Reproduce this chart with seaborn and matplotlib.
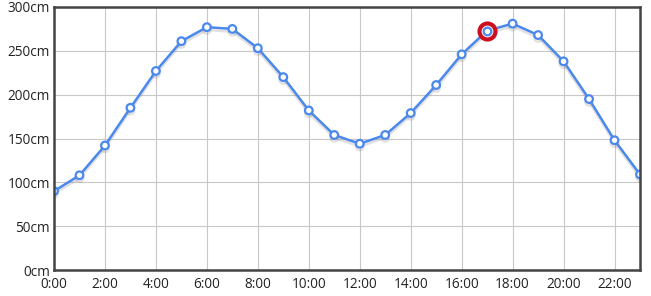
import matplotlib
matplotlib.use("Agg")
import matplotlib.pyplot as plt
import matplotlib.patheffects as pe
import seaborn as sns
import pandas as pd

hours = list(range(24))
tide_cm = [90, 108, 142, 185, 227, 261, 277, 275, 253, 220, 182, 154,
           144, 154, 179, 211, 246, 273, 281, 268, 238, 195, 148, 109]
x_tick_labels = [f"{h}:00" for h in range(0, 24, 2)]
y_ticks = [0, 50, 100, 150, 200, 250, 300]
highlight_hour = 17

df = pd.DataFrame({"hour": hours, "tide": tide_cm})

sns.set_style("white")
plt.rcParams["font.family"] = ["Open Sans", "DejaVu Sans"]

fig = plt.figure(figsize=(6.51, 2.96), dpi=100)
ax = fig.add_axes([54 / 651, 26 / 296, 586 / 651, 263 / 296])

line_color = "#4A88EE"
sns.lineplot(data=df, x="hour", y="tide", ax=ax, color=line_color, linewidth=1.8,
             marker="o", markersize=5.5, markerfacecolor="white",
             markeredgecolor=line_color, markeredgewidth=1.6,
             path_effects=[pe.SimpleLineShadow(offset=(0, -2), shadow_color="#888888", alpha=0.25),
                           pe.Normal()])

hv = tide_cm[hours.index(highlight_hour)]
ax.plot([highlight_hour], [hv], marker="o", markersize=11.5, markerfacecolor="white",
        markeredgecolor="#CC1020", markeredgewidth=3.0, zorder=5, linestyle="none")
ax.plot([highlight_hour], [hv], marker="o", markersize=5.5, markerfacecolor="white",
        markeredgecolor=line_color, markeredgewidth=1.6, zorder=6, linestyle="none")

ax.set_xlim(0, 23)
ax.set_ylim(0, 300)
ax.set_xticks(list(range(0, 24, 2)))
ax.set_xticklabels(x_tick_labels)
ax.set_yticks(y_ticks)
ax.set_yticklabels([f"{v}cm" for v in y_ticks])
ax.grid(True, color="#c8c8c8", linewidth=0.8)
ax.set_axisbelow(True)
ax.set_xlabel("")
ax.set_ylabel("")
for s in ax.spines.values():
    s.set_visible(True)
    s.set_color("#444444")
    s.set_linewidth(1.8)
ax.tick_params(axis="both", labelsize=9.8, colors="#222222", length=0)
ax.tick_params(axis="x", pad=5)
ax.tick_params(axis="y", pad=3)

fig.savefig("out.png", dpi=100)
